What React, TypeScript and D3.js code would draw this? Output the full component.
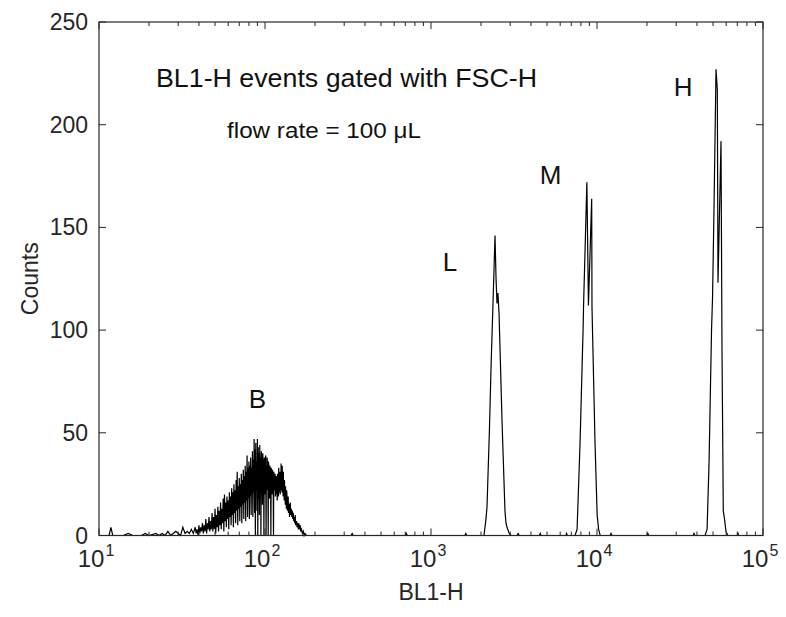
import React from "react";
import * as d3 from "d3";

// BL1-H value, count pairs (population B, noisy low-intensity beads)
const popB: [number, number][] = [
  [10, 0], [11.5, 0], [11.8, 4], [12.1, 0], [14, 0], [15, 1], [16, 0], [18, 0], [19, 1], [20, 0],
  [22, 1], [23, 0], [24, 1], [25, 0], [26, 2], [27, 0], [28, 1], [29, 2],
  [30, 1], [31, 0], [32, 4], [33, 1], [34, 2], [35, 1], [36, 3], [37, 1], [38, 4], [38.5, 1],
  [39, 3], [39.5, 0], [40, 5], [40.5, 1], [41, 4], [41.5, 2], [42, 6], [42.5, 1], [43, 5], [43.5, 2],
  [44, 8], [44.5, 1], [45, 6], [45.5, 3], [46, 9], [46.5, 2], [47, 7], [47.5, 3],
  [48, 11], [48.5, 2], [49, 9], [49.5, 3], [50, 13], [50.5, 1], [51, 10], [51.5, 4], [52, 14], [52.5, 2],
  [53, 12], [53.5, 5], [54, 16], [54.5, 3], [55, 13], [55.5, 6], [56, 18], [56.5, 2], [57, 20], [57.5, 7],
  [58, 16], [58.5, 4], [59, 19], [59.5, 8], [60, 17], [60.5, 3], [61, 21], [61.5, 9], [62, 19], [62.5, 5],
  [63, 23], [63.5, 10], [64, 21], [64.5, 4], [65, 25], [65.5, 11], [66, 22], [66.5, 6], [67, 27], [67.5, 12],
  [68, 31], [68.5, 5], [69, 24], [69.5, 13], [70, 28], [70.5, 7], [71, 25], [71.5, 14], [72, 30], [72.5, 6],
  [73, 27], [73.5, 15], [74, 32], [74.5, 8], [75, 29], [75.5, 16], [76, 34], [76.5, 7], [77, 31], [77.5, 17],
  [78, 39], [78.5, 9], [79, 33], [79.5, 18], [80, 36], [80.5, 8], [81, 34], [81.5, 19], [82, 38], [82.5, 10],
  [83, 33], [83.5, 20], [84, 41], [84.5, 9], [85, 37], [85.5, 21], [86, 47], [86.5, 11], [87, 42], [87.5, 0],
  [88, 45], [88.5, 22], [89, 36], [89.5, 12], [90, 47], [90.5, 0], [91, 43], [91.5, 18], [92, 40], [92.5, 10],
  [93, 44], [93.5, 24], [94, 38], [94.5, 0], [95, 41], [96, 36], [96.5, 15], [97, 40], [97.5, 30], [98, 37],
  [98.5, 0], [99, 38], [99.5, 20], [100, 35], [101, 39], [101.5, 0], [102, 34], [102.5, 22], [103, 38], [104, 33],
  [104.5, 0], [105, 36], [106, 31], [106.5, 18], [107, 34], [108, 30], [108.5, 0], [109, 33], [110, 29], [110.5, 20],
  [111, 32], [112, 28], [112.5, 0], [113, 31], [113.5, 22], [114, 27], [114.5, 24], [115, 30], [115.5, 19],
  [116, 26], [116.5, 20], [117, 29], [117.5, 21], [118, 24], [118.5, 17], [119, 30], [119.5, 22], [120, 27],
  [120.5, 19], [121, 33], [121.5, 23], [122, 26], [122.5, 21], [123, 31], [123.5, 20], [124, 28], [124.5, 22],
  [125, 35], [125.5, 25], [126, 30], [126.5, 21], [127, 34], [127.5, 24], [128, 27], [128.5, 19], [129, 31],
  [129.5, 20], [130, 24], [130.5, 17], [131, 27], [131.5, 18], [132, 22], [132.5, 15], [133, 24], [133.5, 16],
  [134, 20], [134.5, 13], [135, 22], [136, 18], [136.5, 12], [137, 17], [138, 19], [138.5, 11], [139, 15],
  [140, 15], [140.5, 9], [141, 14], [142, 16], [143, 10], [144, 13], [145, 9], [146, 12], [147, 8], [148, 11],
  [149, 7], [150, 9], [151, 6], [152, 10], [153, 5], [155, 7], [156, 4], [158, 6], [159, 3], [160, 6],
  [161, 3], [163, 5], [164, 2], [166, 3], [168, 1], [170, 2], [172, 0], [174, 1], [178, 0],
];

// population L
const popL: [number, number][] = [
  [2085, 0], [2144, 8], [2175, 14], [2250, 52], [2300, 82], [2330, 97], [2361, 112],
  [2430, 146], [2465, 125], [2498, 113], [2530, 118], [2570, 108], [2680, 55],
  [2790, 12], [2830, 6], [2870, 4], [2960, 1], [3040, 0],
];

// population M
const popM: [number, number][] = [
  [7371, 0], [7585, 3], [7905, 45], [8180, 90], [8245, 100], [8300, 112], [8480, 140],
  [8690, 172], [8880, 112], [9290, 164], [9330, 111], [9730, 45], [10020, 10],
  [10230, 3], [10450, 0],
];

// population H
const popH: [number, number][] = [
  [44730, 0], [46030, 3], [47300, 35], [48980, 100], [49670, 116], [50700, 160],
  [52120, 227], [53060, 217], [53570, 123], [55850, 192], [56630, 90], [57650, 12],
  [58640, 8], [59840, 2], [61510, 0],
];

const baselineNoise: [number, number][] = [
  [330, 0], [335, 1], [340, 0], [700, 0], [710, 1], [720, 0], [1600, 0], [1620, 1], [1640, 0],
  [3300, 0], [3350, 1], [3400, 0], [4500, 0], [4550, 1], [4600, 0], [6500, 0], [6560, 1], [6620, 0],
  [12000, 0], [12150, 1], [12300, 0], [20000, 0], [20250, 1], [20500, 0], [38000, 0], [38400, 1], [38800, 0],
  [70000, 0], [70700, 1], [71400, 0], [100000, 0],
];

const yTicks = [0, 50, 100, 150, 200, 250];
const xDecades = [1, 2, 3, 4, 5];

const annotations = [
  { text: "B", x: 90, y: 62 },
  { text: "L", x: 1300, y: 129 },
  { text: "M", x: 5250, y: 171 },
  { text: "H", x: 33000, y: 214 },
];

const W = 786, H = 617;
const L0 = 99, R0 = 763, T0 = 22, B0 = 535.5;
const AX = "#262626";

export default function App() {
  const x = d3.scaleLog().domain([10, 1e5]).range([L0, R0]);
  const y = d3.scaleLinear().domain([0, 250]).range([B0, T0]);

  const all = [...popB, ...popL, ...popM, ...popH, ...baselineNoise].sort((a, b) => a[0] - b[0]);
  const line = d3.line<[number, number]>().x((d) => x(d[0])).y((d) => y(d[1]));

  const minor: number[] = [];
  for (let k = 1; k < 5; k++) for (let m = 2; m <= 9; m++) minor.push(m * Math.pow(10, k));

  const font = "'Liberation Sans', Arial, sans-serif";

  return (
    <svg width={W} height={H} style={{ position: "absolute", left: 0, top: 0, background: "#fff" }} fontFamily={font}>
      <rect x={0} y={0} width={W} height={H} fill="#fff" />
      <path d={line(all) || ""} fill="none" stroke="#000" strokeWidth={1.2} strokeLinejoin="miter" />
      <rect x={L0} y={T0} width={R0 - L0} height={B0 - T0} fill="none" stroke={AX} strokeWidth={1.2} />
      {xDecades.map((e) => {
        const v = Math.pow(10, e);
        return (
          <g key={"xd" + e}>
            <line x1={x(v)} x2={x(v)} y1={B0} y2={B0 - 7} stroke={AX} />
            <line x1={x(v)} x2={x(v)} y1={T0} y2={T0 + 7} stroke={AX} />
            <text x={x(v) - 3} y={567} textAnchor="middle" fontSize={24} fill={AX}>
              10
              <tspan fontSize={16} dy={-11} dx={1}>{e}</tspan>
            </text>
          </g>
        );
      })}
      {minor.map((v, i) => (
        <g key={"xm" + i}>
          <line x1={x(v)} x2={x(v)} y1={B0} y2={B0 - 4} stroke={AX} />
          <line x1={x(v)} x2={x(v)} y1={T0} y2={T0 + 4} stroke={AX} />
        </g>
      ))}
      {yTicks.map((t) => (
        <g key={"y" + t}>
          <line x1={L0} x2={L0 + 7} y1={y(t)} y2={y(t)} stroke={AX} />
          <line x1={R0} x2={R0 - 7} y1={y(t)} y2={y(t)} stroke={AX} />
          <text x={88} y={y(t) + 8} textAnchor="end" fontSize={23} fill={AX}>{t}</text>
        </g>
      ))}
      <text x={(L0 + R0) / 2} y={600} textAnchor="middle" fontSize={23} fill={AX}>BL1-H</text>
      <text transform={`translate(38, ${(T0 + B0) / 2}) rotate(-90)`} textAnchor="middle" fontSize={23} fill={AX}>Counts</text>
      <text x={156} y={87} fontSize={25} textLength={381} lengthAdjust="spacingAndGlyphs" fill="#111">BL1-H events gated with FSC-H</text>
      <text x={227} y={138} fontSize={22} textLength={194} lengthAdjust="spacingAndGlyphs" fill="#111">flow rate = 100 μL</text>
      {annotations.map((a) => (
        <text key={a.text} x={x(a.x)} y={y(a.y)} textAnchor="middle" fontSize={26} fill="#111">{a.text}</text>
      ))}
    </svg>
  );
}
